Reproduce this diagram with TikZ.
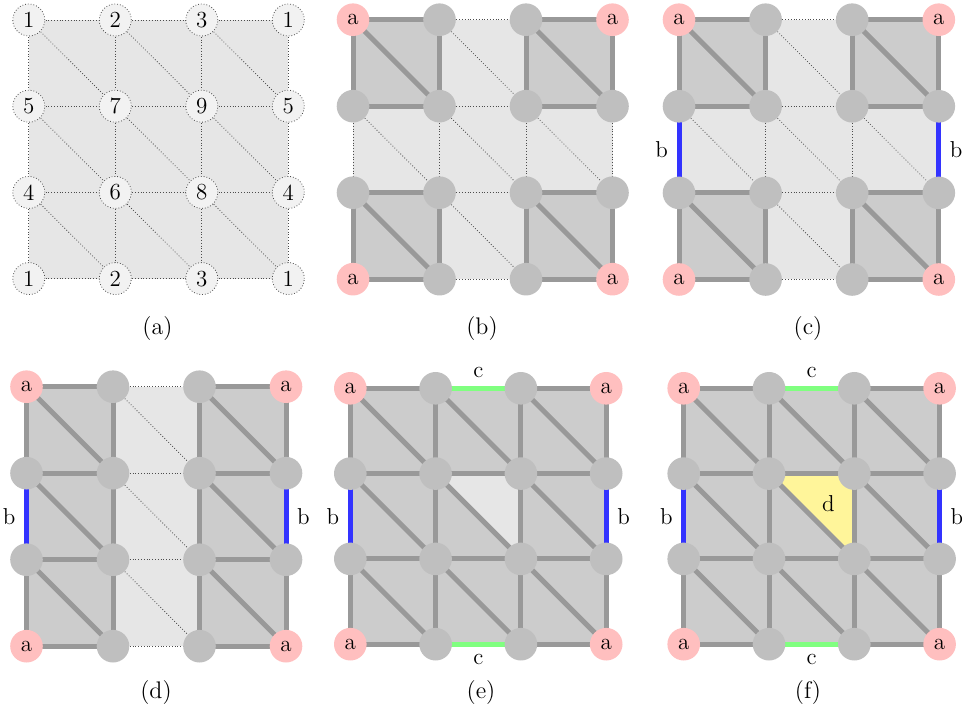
\documentclass[tikz,border=0pt]{standalone}
\pgfdeclarelayer{fills}
\pgfdeclarelayer{edges}
\pgfsetlayers{fills,edges,main}
\definecolor{lightf}{HTML}{E6E6E6}
\definecolor{darkf}{HTML}{CCCCCC}
\definecolor{edgeg}{HTML}{999999}
\definecolor{vertg}{HTML}{BFBFBF}
\definecolor{pinkv}{HTML}{FFBFBF}
\definecolor{bluee}{HTML}{3333FF}
\definecolor{greene}{HTML}{80FF80}
\definecolor{yellowf}{HTML}{FFF59A}
\definecolor{vlight}{HTML}{F2F2F2}
\newcommand\mylbl{\fontsize{11.5}{13}\selectfont}
\newcommand\mycap{\fontsize{12}{14}\selectfont}
\tikzset{
 vert/.style={circle, fill=vertg, minimum size=16.3pt, inner sep=0pt, font=\mylbl},
 vcorner/.style={vert, fill=pinkv},
 vdot/.style={circle, fill=vlight, draw=black!70, densely dotted, line width=0.4pt, minimum size=16pt, inner sep=0pt, font=\mylbl},
 thk/.style={line width=2.5pt, draw=edgeg},
 dotE/.style={densely dotted, line width=0.4pt, draw=black!70},
 blueE/.style={line width=2.5pt, draw=bluee},
 greenE/.style={line width=2.5pt, draw=greene},
 captxt/.style={font=\mycap, inner sep=0pt},
 lab/.style={font=\mylbl, inner sep=0pt},
}
\newcommand\mkgrid[4]{%
  \foreach \i in {0,...,3}{\foreach \j in {0,...,3}{%
    \pgfmathtruncatemacro\corner{(mod(\i,3)==0)*(mod(\j,3)==0)}%
    \ifnum\corner=1
      \node[vcorner] (#1-\i-\j) at ({#2+\i*#4},{#3+\j*#4}) {a};
    \else
      \node[vert] (#1-\i-\j) at ({#2+\i*#4},{#3+\j*#4}) {};
    \fi
  }}%
}
\newcommand\alledges[2]{%
  \foreach \k in {0,...,3}{\foreach \m in {0,1,2}{%
    \pgfmathtruncatemacro\n{\m+1}%
    \draw[#2] (#1-\m-\k.center) -- (#1-\n-\k.center);
    \draw[#2] (#1-\k-\m.center) -- (#1-\k-\n.center);
  }}%
  \foreach \i in {0,1,2}{\foreach \j in {0,1,2}{%
    \pgfmathtruncatemacro\ii{\i+1}\pgfmathtruncatemacro\jj{\j+1}%
    \draw[#2] (#1-\i-\j.center) -- (#1-\ii-\jj.center);
  }}%
}
\newcommand\basepanel[1]{%
  \begin{pgfonlayer}{fills}\fill[lightf] (#1-0-0.center) rectangle (#1-3-3.center);\end{pgfonlayer}%
  \begin{pgfonlayer}{edges}\alledges{#1}{dotE}\end{pgfonlayer}%
}
\newcommand\darksq[3]{%
  \pgfmathtruncatemacro\ii{#2+1}\pgfmathtruncatemacro\jj{#3+1}%
  \begin{pgfonlayer}{fills}\fill[darkf] (#1-#2-#3.center) rectangle (#1-\ii-\jj.center);\end{pgfonlayer}%
  \begin{pgfonlayer}{edges}%
    \draw[thk] (#1-#2-#3.center) -- (#1-\ii-#3.center) -- (#1-\ii-\jj.center) -- (#1-#2-\jj.center) -- cycle;
    \draw[thk] (#1-#2-#3.center) -- (#1-\ii-\jj.center);
  \end{pgfonlayer}%
}
\newcommand\bedges[1]{%
  \begin{pgfonlayer}{edges}%
    \draw[blueE] (#1-0-1.center) -- (#1-0-2.center) node[lab, midway, left=4.3pt] (#1-bl) {b};
    \draw[blueE] (#1-3-1.center) -- (#1-3-2.center) node[lab, midway, right=4.3pt] (#1-br) {b};
  \end{pgfonlayer}%
}
\newcommand\cedges[1]{%
  \begin{pgfonlayer}{edges}%
    \draw[greenE] (#1-1-0.center) -- (#1-2-0.center) node[lab, midway, above=4.2pt] (#1-ct) {c};
    \draw[greenE] (#1-1-3.center) -- (#1-2-3.center) node[lab, midway, below=3.8pt] (#1-cb) {c};
  \end{pgfonlayer}%
}
\begin{document}
\begin{tikzpicture}[x=0.5pt, y=-0.5pt]
\useasboundingbox (0,0) rectangle (962,715);
% ---------- (a)
\foreach \i/\j/\t in {0/0/1,1/0/2,2/0/3,3/0/1, 0/1/5,1/1/7,2/1/9,3/1/5, 0/2/4,1/2/6,2/2/8,3/2/4, 0/3/1,1/3/2,2/3/3,3/3/1}
  \node[vdot] (a-\i-\j) at ({28.8+\i*86.5},{20+\j*86.2}) {\t};
\basepanel{a}
\node[captxt] (cap-a) at (157.5,329) {(a)};
% ---------- (b)
\mkgrid{b}{353}{19.7}{86.5}
\basepanel{b}
\darksq{b}{0}{0}\darksq{b}{2}{0}\darksq{b}{0}{2}\darksq{b}{2}{2}
\node[captxt] (cap-b) at (482,329) {(b)};
% ---------- (c)
\mkgrid{c}{679}{19.7}{86.6}
\basepanel{c}
\darksq{c}{0}{0}\darksq{c}{2}{0}\darksq{c}{0}{2}\darksq{c}{2}{2}
\bedges{c}
\node[captxt] (cap-c) at (808,329) {(c)};
% ---------- (d)
\mkgrid{d}{26.5}{386.7}{86.5}
\basepanel{d}
\darksq{d}{0}{0}\darksq{d}{0}{1}\darksq{d}{0}{2}
\darksq{d}{2}{0}\darksq{d}{2}{1}\darksq{d}{2}{2}
\bedges{d}
\node[captxt] (cap-d) at (156,693) {(d)};
% ---------- (e)
\mkgrid{e}{350.3}{388.3}{85.3}
\basepanel{e}
\darksq{e}{0}{0}\darksq{e}{1}{0}\darksq{e}{2}{0}
\darksq{e}{0}{1}\darksq{e}{1}{1}\darksq{e}{2}{1}
\darksq{e}{0}{2}\darksq{e}{1}{2}\darksq{e}{2}{2}
\begin{pgfonlayer}{fills}\fill[lightf] (e-1-1.center) -- (e-2-1.center) -- (e-2-2.center) -- cycle;\end{pgfonlayer}
\bedges{e}
\cedges{e}
\node[captxt] (cap-e) at (481,693) {(e)};
% ---------- (f)
\mkgrid{f}{683.7}{388.3}{85.3}
\basepanel{f}
\darksq{f}{0}{0}\darksq{f}{1}{0}\darksq{f}{2}{0}
\darksq{f}{0}{1}\darksq{f}{1}{1}\darksq{f}{2}{1}
\darksq{f}{0}{2}\darksq{f}{1}{2}\darksq{f}{2}{2}
\begin{pgfonlayer}{fills}\fill[yellowf] (f-1-1.center) -- (f-2-1.center) -- (f-2-2.center) -- cycle;\end{pgfonlayer}
\bedges{f}
\cedges{f}
\node[lab] (f-d) at (828.3,503.3) {d};
\node[captxt] (cap-f) at (808,693) {(f)};
\end{tikzpicture}
\end{document}
